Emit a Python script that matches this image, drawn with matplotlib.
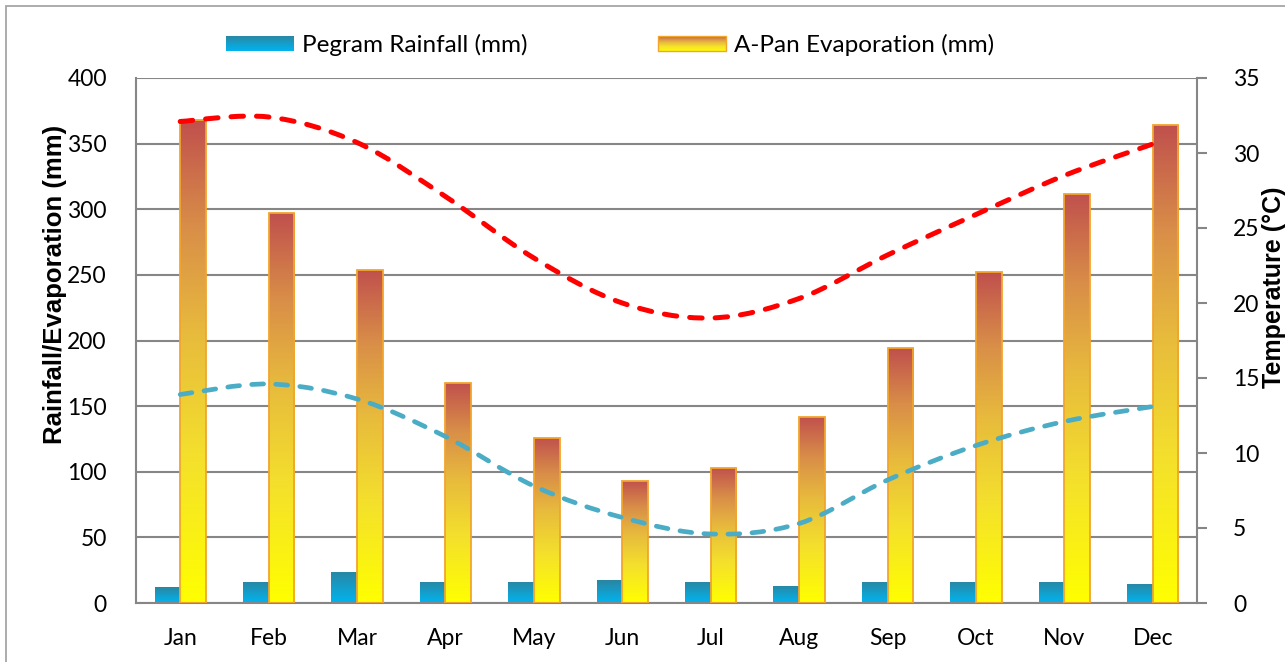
import numpy as np
import matplotlib.pyplot as plt
from matplotlib.colors import LinearSegmentedColormap
from matplotlib.path import Path
from matplotlib.patches import PathPatch, Rectangle
from matplotlib.legend_handler import HandlerBase

months = ['Jan', 'Feb', 'Mar', 'Apr', 'May', 'Jun', 'Jul', 'Aug', 'Sep', 'Oct', 'Nov', 'Dec']
rainfall = [12, 16, 24, 16, 16, 17.5, 16, 13, 16, 16, 16, 14.5]
evaporation = [368, 297, 254, 168, 126, 93, 103, 142, 194, 252, 312, 364]
temp_max = [32.1, 32.4, 30.7, 27.1, 23.0, 20.0, 19.0, 20.3, 23.2, 25.9, 28.5, 30.6]
temp_min = [13.9, 14.6, 13.6, 11.1, 7.8, 5.7, 4.6, 5.3, 8.2, 10.5, 12.1, 13.1]

GRID = '#868686'
plt.rcParams['font.family'] = ['Lato', 'DejaVu Sans']

evap_cmap = LinearSegmentedColormap.from_list(
    'evap', [(0, '#FFFF00'), (0.3, '#F4E02C'), (0.55, '#E8BC3C'), (0.78, '#D98E48'), (1, '#C0504D')])
rain_cmap = LinearSegmentedColormap.from_list('rain', [(0, '#00B4F0'), (1, '#2A86A2')])


def gradient_fill(ax, bars, cmap):
    grad = np.linspace(0, 1, 256).reshape(-1, 1)
    for b in bars:
        x0, w, h = b.get_x(), b.get_width(), b.get_height()
        im = ax.imshow(grad, cmap=cmap, origin='lower', aspect='auto', interpolation='bilinear',
                       extent=(x0, x0 + w, 0, h), zorder=2)
        im.set_clip_path(b)


def smooth_path(xs, ys):
    # Bezier curve through the points, like a spreadsheet's smoothed line
    pts = np.column_stack([xs, ys]).astype(float)
    n = len(pts)
    verts = [pts[0]]
    codes = [Path.MOVETO]
    for i in range(n - 1):
        p0 = pts[i - 1] if i > 0 else pts[i]
        p1, p2 = pts[i], pts[i + 1]
        p3 = pts[i + 2] if i + 2 < n else pts[i + 1]
        c1 = p1 + (p2 - p0) / 6
        c2 = p2 - (p3 - p1) / 6
        verts += [c1, c2, p2]
        codes += [Path.CURVE4] * 3
    return Path(verts, codes)


class GradientHandler(HandlerBase):
    def __init__(self, cmap, edge):
        super().__init__()
        self.cmap = cmap
        self.edge = edge

    def create_artists(self, legend, orig_handle, xdescent, ydescent, width, height, fontsize, trans):
        arts = []
        n = 30
        for i in range(n):
            arts.append(Rectangle((-xdescent, -ydescent + height * i / n), width, height / n * 1.1,
                                  facecolor=self.cmap((i + 0.5) / n), edgecolor='none', transform=trans))
        if self.edge:
            arts.append(Rectangle((-xdescent, -ydescent), width, height, facecolor='none',
                                  edgecolor=self.edge, lw=1, transform=trans))
        return arts


fig = plt.figure(figsize=(12.85, 6.62), dpi=100)
ax = fig.add_axes([136 / 1285, 59 / 662, 1061 / 1285, 525 / 662])
ax2 = ax.twinx()

x = np.arange(len(months))
w = 0.29
rain_bars = ax.bar(x - w / 2, rainfall, w, facecolor='none', edgecolor='none', zorder=3)
evap_bars = ax.bar(x + w / 2, evaporation, w, facecolor='none', edgecolor='#F2A52C', lw=1.3, zorder=3)
gradient_fill(ax, rain_bars, rain_cmap)
gradient_fill(ax, evap_bars, evap_cmap)

ax.set_xlim(-0.5, 11.5)
ax.set_ylim(0, 400)
ax.set_yticks(range(0, 401, 50))
ax.set_xticks(x)
ax.set_xticklabels(months)
ax.set_axisbelow(True)
ax.yaxis.grid(True, color=GRID, lw=1.5)
ax.tick_params(axis='y', length=0, pad=21, labelsize=16.5)
ax.tick_params(axis='x', length=0, pad=18, labelsize=16.5)
for s in ['top', 'right']:
    ax.spines[s].set_visible(False)
for s in ['left', 'bottom']:
    ax.spines[s].set_color(GRID)
    ax.spines[s].set_linewidth(1.5)
ax.set_ylabel('Rainfall/Evaporation (mm)', family='Liberation Sans', fontweight='bold', fontsize=18.5)
ax.yaxis.set_label_coords(-0.065, 0.607)

ax2.set_ylim(0, 35)
ax2.set_yticks(range(0, 36, 5))
ax2.tick_params(axis='y', direction='out', length=7, width=1.5, color=GRID, pad=19, labelsize=16.5)
for s in ['top', 'left', 'bottom']:
    ax2.spines[s].set_visible(False)
ax2.spines['right'].set_color(GRID)
ax2.spines['right'].set_linewidth(1.5)
ax2.set_ylabel('Temperature (°C)', family='Liberation Sans', fontweight='bold', fontsize=18)
ax2.yaxis.set_label_coords(1.061, 0.602)

ax2.add_patch(PathPatch(smooth_path(x, temp_max), fill=False, edgecolor='#FF0000', lw=3.6,
                        linestyle=(0, (2.5, 2.6)), capstyle='round', zorder=4))
ax2.add_patch(PathPatch(smooth_path(x, temp_min), fill=False, edgecolor='#4BACC6', lw=3.4,
                        linestyle=(0, (2.5, 2.6)), capstyle='round', zorder=4))

h_rain = Rectangle((0, 0), 1, 1)
h_evap = Rectangle((0, 0), 1, 1)
fig.legend([h_rain, h_evap], ['Pegram Rainfall (mm)', 'A-Pan Evaporation (mm)'],
           handler_map={h_rain: GradientHandler(rain_cmap, None),
                        h_evap: GradientHandler(evap_cmap, '#F2A52C')},
           loc='center', bbox_to_anchor=(610 / 1285, 1 - 45 / 662), ncol=2, frameon=False,
           fontsize=17.5, handlelength=2.8, handleheight=0.58, handletextpad=0.3, columnspacing=5.4)

fig.patches.append(Rectangle((6 / 1285, -0.1), 1.2, 1.1 - 6 / 662, transform=fig.transFigure,
                             fill=False, edgecolor='#A6A6A6', lw=1.3))

fig.savefig('out.png', dpi=100)
